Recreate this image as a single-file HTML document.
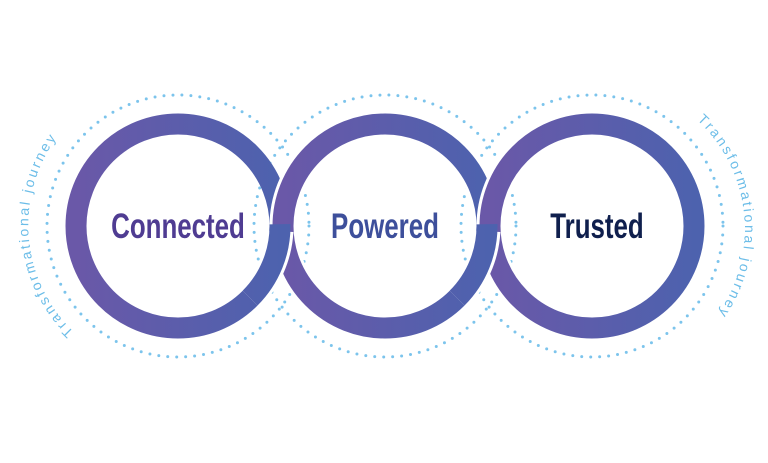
<!DOCTYPE html>
<html><head><meta charset="utf-8"><style>
html,body{margin:0;padding:0;background:#fff;}
svg{display:block}
</style></head><body>
<svg width="768" height="463" viewBox="0 0 768 463" xmlns="http://www.w3.org/2000/svg">
<defs>
<linearGradient id="g" x1="0" y1="0" x2="1" y2="0">
<stop offset="0" stop-color="#6a58a8"/><stop offset="1" stop-color="#4d62ae"/>
</linearGradient>
<linearGradient id="gu" gradientUnits="userSpaceOnUse" x1="76" y1="0" x2="280" y2="0">
<stop offset="0" stop-color="#6a58a8"/><stop offset="1" stop-color="#4d62ae"/>
</linearGradient>
<linearGradient id="gu2" gradientUnits="userSpaceOnUse" x1="283" y1="0" x2="487" y2="0">
<stop offset="0" stop-color="#6a58a8"/><stop offset="1" stop-color="#4d62ae"/>
</linearGradient>
<path id="pl" d="M 74 332 A 148 148 0 0 1 70 122"/>
<path id="pr" d="M 697 120 A 148 148 0 0 1 703 332"/>
</defs>
<g fill="none" stroke="#7cc4ec" stroke-width="3" stroke-linecap="round" stroke-dasharray="0 9">
<circle cx="178" cy="226" r="131"/>
<circle cx="385" cy="226" r="131"/>
<circle cx="592" cy="226" r="131"/>
</g>
<circle cx="178" cy="226" r="102" fill="none" stroke="url(#g)" stroke-width="21"/>
<circle cx="385" cy="226" r="102" fill="none" stroke="#fff" stroke-width="27"/>
<circle cx="385" cy="226" r="102" fill="none" stroke="url(#g)" stroke-width="21"/>
<circle cx="592" cy="226" r="102" fill="none" stroke="#fff" stroke-width="27"/>
<circle cx="592" cy="226" r="102" fill="none" stroke="url(#g)" stroke-width="21"/>
<path d="M 279.9 231.3 A 102 102 0 0 1 250.1 298.1" fill="none" stroke="#fff" stroke-width="27"/>
<path d="M 280 224.2 A 102 102 0 0 1 250.1 298.1" fill="none" stroke="url(#gu)" stroke-width="21"/>
<path d="M 486.9 231.3 A 102 102 0 0 1 457.1 298.1" fill="none" stroke="#fff" stroke-width="27"/>
<path d="M 487 224.2 A 102 102 0 0 1 457.1 298.1" fill="none" stroke="url(#gu2)" stroke-width="21"/>
<g font-family="Liberation Sans Narrow, Liberation Sans, sans-serif" font-weight="bold" font-size="35" text-anchor="middle">
<text x="178" y="238" fill="#4f3c92" transform="translate(178 0) scale(0.74 1) translate(-178 0)">Connected</text>
<text x="385" y="238" fill="#3d4f9b" transform="translate(385 0) scale(0.74 1) translate(-385 0)">Powered</text>
<text x="597" y="238" fill="#0f1f4d" transform="translate(597 0) scale(0.74 1) translate(-597 0)">Trusted</text>
</g>
<g font-family="Liberation Sans, sans-serif" font-size="14" fill="#6cbde8">
<text><textPath href="#pl" textLength="212" lengthAdjust="spacing">Transformational journey</textPath></text>
<text><textPath href="#pr" textLength="212" lengthAdjust="spacing">Transformational journey</textPath></text>
</g>
</svg>
</body></html>
